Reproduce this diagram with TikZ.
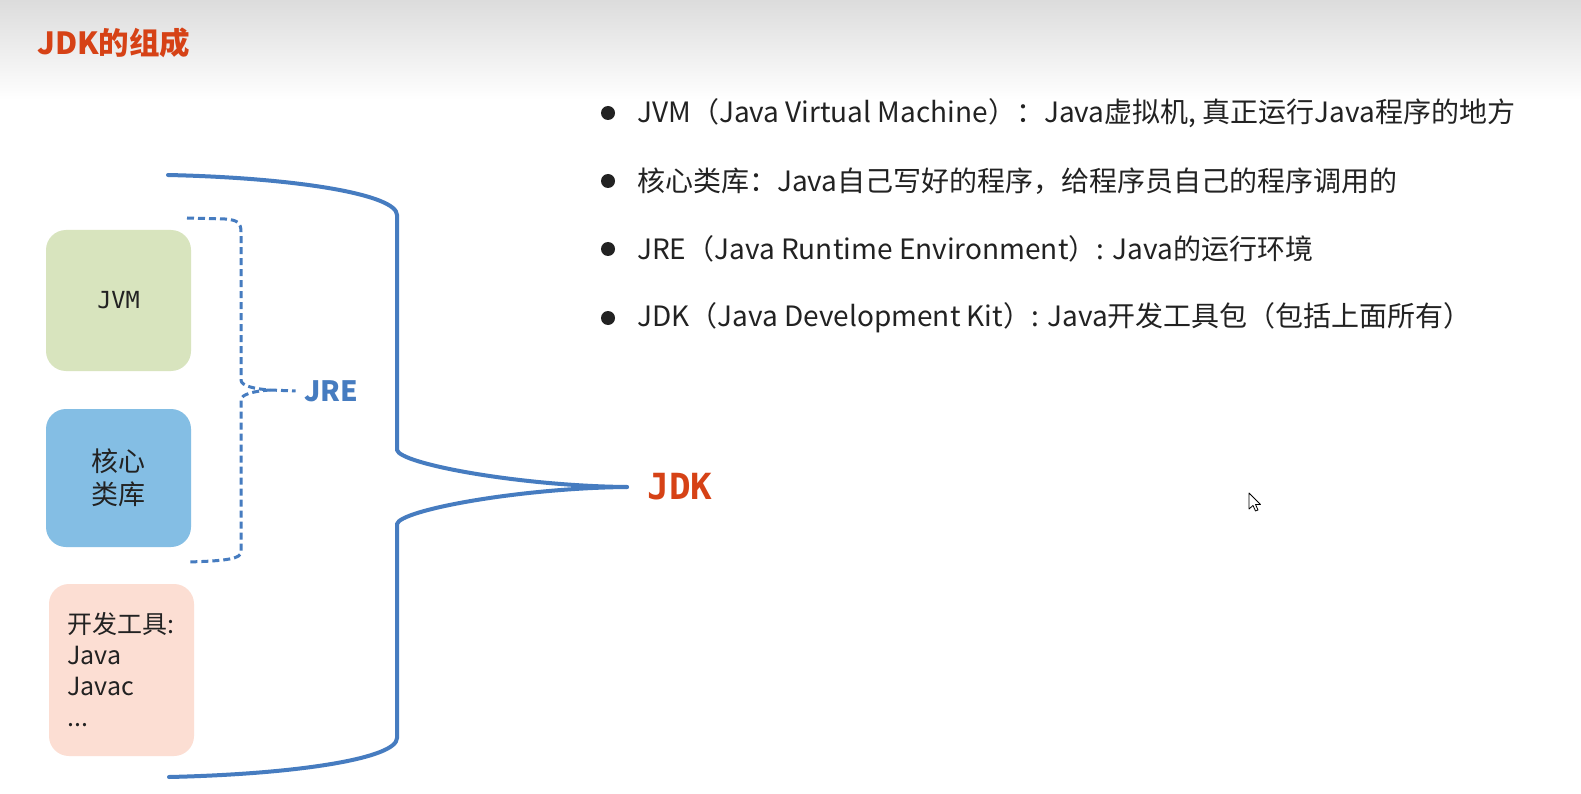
\documentclass[tikz,border=0pt]{standalone}
\usepackage{fontspec}
\setmainfont{Noto Sans CJK SC}
\newfontfamily\monof{DejaVu Sans Mono}
\definecolor{lineblue}{RGB}{70,124,192}
\definecolor{jdkred}{RGB}{214,66,22}
\definecolor{jvmgreen}{RGB}{216,228,190}
\definecolor{coreblue}{RGB}{132,190,228}
\definecolor{devpeach}{RGB}{252,222,211}
\definecolor{txt}{RGB}{34,34,34}
\definecolor{topgray}{RGB}{220,220,220}
\begin{document}
\begin{tikzpicture}[x=1pt,y=-1pt,
  bl/.style={line width=4pt, draw=lineblue, line cap=round},
  dsh/.style={line width=3pt, draw=lineblue, dash pattern=on 7pt off 4pt},
  boxs/.style={rounded corners=20pt, minimum width=145pt, inner sep=0pt, text=txt},
  bul/.style={anchor=west, font=\fontsize{28}{34}\selectfont, text=txt, inner sep=0pt},
  dot/.style={circle, fill=txt, minimum size=14pt, inner sep=0pt}]
\path[use as bounding box] (0,0) rectangle (1581,794);
\fill[white] (0,0) rectangle (1581,794);
\shade[top color=topgray, bottom color=white] (0,0) rectangle (1581,100);

\node[anchor=west, font=\fontsize{30.5}{36}\selectfont\bfseries, text=jdkred, inner sep=0pt] (title) at (37,43) {JDK的组成};

% boxes
\node[boxs, fill=jvmgreen, minimum height=141pt, font=\monof\fontsize{23.5}{28}\selectfont] (jvm) at (118.5,300.5) {JVM};
\node[boxs, fill=coreblue, minimum height=138pt, align=center, font=\fontsize{27}{33}\selectfont] (core) at (118.5,478) {核心\\类库};
\node[boxs, fill=devpeach, minimum height=172pt, align=left, text width=108pt, inner xsep=18.5pt, font=\fontsize{25}{31}\selectfont] (dev) at (121.5,670) {开发工具:\\Java\\Javac\\...};

% labels
\node[font=\fontsize{28}{34}\selectfont\bfseries, text=lineblue] (jre) at (331,391) {JRE};
\node[font=\monof\bfseries\fontsize{36}{40}\selectfont, text=jdkred] (jdk) at (680,487) {JDK};

% big bracket
\coordinate (bt) at (168,175);
\coordinate (bb) at (169,777);
\coordinate (btip) at (627,487);
\draw[bl] (bt) .. controls (300,178) and (397,195) .. (397,215) -- (397,450)
  .. controls (400,464) and (520,486) .. (btip);
\draw[bl] (btip) .. controls (520,488) and (400,510) .. (397,524) -- (397,738)
  .. controls (397,758) and (300,774) .. (bb);

% dashed bracket
\coordinate (dt) at (187,218);
\coordinate (db) at (187,562);
\coordinate (dtip) at (270,390);
\draw[dsh] (dt) -- (225,219) .. controls (238,220) and (241,223) .. (241,232) -- (241,380)
  .. controls (241,386) and (255,389) .. (dtip);
\draw[dsh] (dtip) .. controls (255,391) and (241,394) .. (241,400) -- (241,552)
  .. controls (241,558) and (230,561) .. (db);
\draw[dsh] (dtip) -- ([xshift=-5pt]jre.west);

% bullets
\node[dot] (d1) at (608,113) {};
\node[bul] (t1) at (637,113) {JVM（Java Virtual Machine）：Java虚拟机, 真正运行Java程序的地方};
\node[dot] (d2) at (608,181) {};
\node[bul] (t2) at (637,181) {核心类库：Java自己写好的程序，给程序员自己的程序调用的};
\node[dot] (d3) at (608,249) {};
\node[bul] (t3) at (637,249) {JRE（Java Runtime Environment）: Java的运行环境};
\node[dot] (d4) at (608,318) {};
\node[bul] (t4) at (637,318) {JDK（Java Development Kit）: Java开发工具包（包括上面所有）};

% mouse cursor
\draw[fill=white, draw=black, line width=0.8pt, line join=round, shift={(1249,493)}]
  (0,0) -- (0,16) -- (4,12.5) -- (6.5,18) -- (9,17) -- (6.5,11.5) -- (11.5,11.5) -- cycle;
\end{tikzpicture}
\end{document}
